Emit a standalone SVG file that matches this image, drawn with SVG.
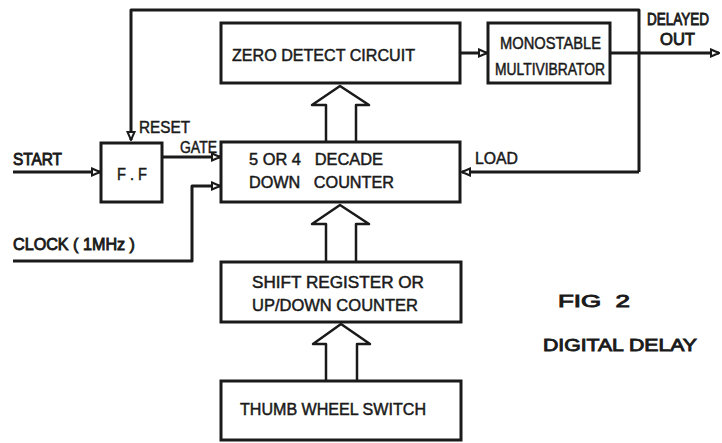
<svg xmlns="http://www.w3.org/2000/svg" width="722" height="443" viewBox="0 0 722 443">
<style>
.box{fill:none;stroke:#1a1a1a;stroke-width:3}
.ln{fill:none;stroke:#1a1a1a;stroke-width:3;stroke-linejoin:round}
.fat{fill:#fff;stroke:#1a1a1a;stroke-width:2.5;stroke-linejoin:round}
text{font-family:"Liberation Sans",Arial,sans-serif;font-size:17px;fill:#1a1a1a;stroke:#1a1a1a;stroke-width:0.5}
.b{stroke-width:0.9}
</style>
<defs>
<marker id="ah" viewBox="0 0 10 10" refX="9" refY="5" markerWidth="10" markerHeight="10" markerUnits="userSpaceOnUse" orient="auto">
<path d="M1,1.5 L9,5 L1,8.5 Z" fill="#fff" stroke="#1a1a1a" stroke-width="2"/>
</marker>
</defs>
<rect width="722" height="443" fill="#fff"/>
<g id="connectors">
<path class="ln" d="M639,172 V10 H131 V140" marker-end="url(#ah)"/>
<path class="ln" d="M460,53 H487" marker-end="url(#ah)"/>
<path class="ln" d="M610,53 H719" marker-end="url(#ah)"/>
<path class="ln" d="M639,172 H462" marker-end="url(#ah)"/>
<path class="ln" d="M13,172 H100" marker-end="url(#ah)"/>
<path class="ln" d="M162,157 H220" marker-end="url(#ah)"/>
<path class="ln" d="M13,261 H192 V186 H220" marker-end="url(#ah)"/>
<path class="fat" d="M326,141 V105 H312 L340,86 L369,105 H356 V141"/>
<path class="fat" d="M326,262 V224 H312 L340,205 L369,224 H356 V262"/>
<path class="fat" d="M326,381 V344 H313 L341,324 L370,344 H357 V381"/>
</g>
<g id="zero-detect">
<rect class="box" x="221" y="23" width="239" height="60"/>
<text x="232" y="61" textLength="183" lengthAdjust="spacingAndGlyphs">ZERO DETECT CIRCUIT</text>
</g>
<g id="monostable">
<rect class="box" x="488" y="23" width="122" height="60"/>
<text x="500" y="49" textLength="101" lengthAdjust="spacingAndGlyphs">MONOSTABLE</text>
<text x="495" y="75" textLength="110" lengthAdjust="spacingAndGlyphs">MULTIVIBRATOR</text>
</g>
<g id="ff">
<rect class="box" x="101" y="143" width="61" height="59"/>
<text x="117" y="180" textLength="30" lengthAdjust="spacingAndGlyphs">F . F</text>
</g>
<g id="counter">
<rect class="box" x="221" y="142" width="239" height="60"/>
<text x="249" y="165" textLength="134" lengthAdjust="spacingAndGlyphs" xml:space="preserve">5 OR 4   DECADE</text>
<text x="249" y="188" textLength="145" lengthAdjust="spacingAndGlyphs" xml:space="preserve">DOWN   COUNTER</text>
</g>
<g id="shift-register">
<rect class="box" x="221" y="262" width="240" height="60"/>
<text x="252" y="288" textLength="172" lengthAdjust="spacingAndGlyphs">SHIFT REGISTER OR</text>
<text x="252" y="311" textLength="166" lengthAdjust="spacingAndGlyphs">UP/DOWN COUNTER</text>
</g>
<g id="thumb-wheel">
<rect class="box" x="221" y="381" width="240" height="59"/>
<text x="240" y="415" textLength="186" lengthAdjust="spacingAndGlyphs">THUMB WHEEL SWITCH</text>
</g>
<g id="labels">
<text x="139" y="133" textLength="51" lengthAdjust="spacingAndGlyphs">RESET</text>
<text x="180" y="153" textLength="37" lengthAdjust="spacingAndGlyphs">GATE</text>
<text class="b" x="13" y="165" textLength="49" lengthAdjust="spacingAndGlyphs">START</text>
<text class="b" x="13" y="250" textLength="122" lengthAdjust="spacingAndGlyphs">CLOCK ( 1MHz )</text>
<text x="475" y="164" textLength="43" lengthAdjust="spacingAndGlyphs">LOAD</text>
<text class="b" x="647" y="25" font-size="13" textLength="62" lengthAdjust="spacingAndGlyphs">DELAYED</text>
<text class="b" x="660" y="45" textLength="35" lengthAdjust="spacingAndGlyphs">OUT</text>
<text class="b" x="558" y="307" font-size="18" textLength="72" lengthAdjust="spacingAndGlyphs" xml:space="preserve">FIG  2</text>
<text class="b" x="543" y="351" font-size="18" textLength="154" lengthAdjust="spacingAndGlyphs">DIGITAL DELAY</text>
</g>
</svg>
